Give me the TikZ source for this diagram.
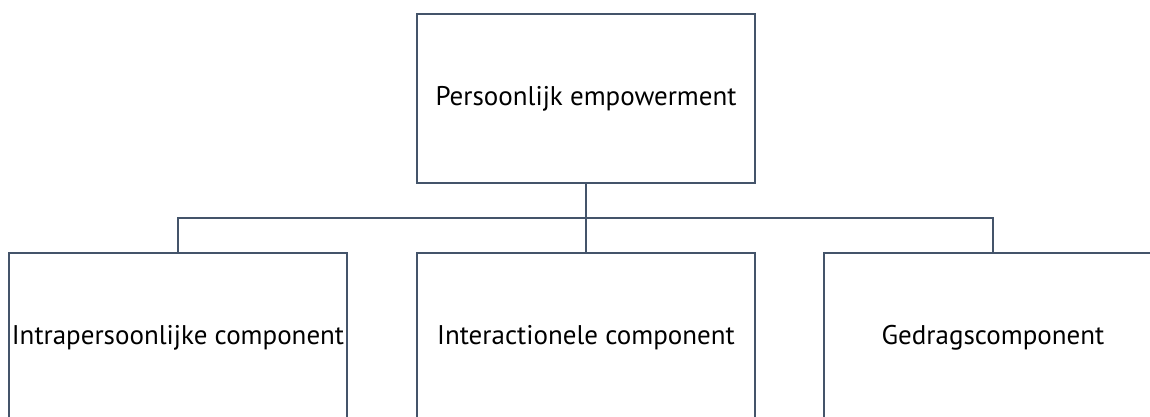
\documentclass[tikz,border=0pt]{standalone}
\usepackage{fontspec}
\setmainfont{PT Sans}
\definecolor{linecol}{HTML}{44546A}
\begin{document}
\begin{tikzpicture}[x=1pt,y=-1pt,
  box/.style={draw=linecol, line width=2pt, fill=white, minimum width=338pt,
    inner sep=0pt, font=\fontsize{27}{32}\selectfont, text=black},
  link/.style={draw=linecol, line width=2pt}]
  \useasboundingbox (0,0) rectangle (1150,417);
  \clip (0,0) rectangle (1150,417);
  % root and the three components
  \node[box, minimum height=169pt] (root) at (586,98.5) {Persoonlijk empowerment};
  \node[box, minimum height=170pt] (intra) at (178,338) {Intrapersoonlijke component};
  \node[box, minimum height=170pt] (inter) at (586,338) {Interactionele component};
  \node[box, minimum height=170pt] (gedrag) at (993,338) {Gedragscomponent};
  % connecting tree
  \coordinate (bus) at (586,218);
  \draw[link] (root.south) -- (bus);
  \draw[link] (bus) -| (intra.north);
  \draw[link] (bus) -| (gedrag.north);
  \draw[link] (bus) -- (inter.north);
\end{tikzpicture}
\end{document}
